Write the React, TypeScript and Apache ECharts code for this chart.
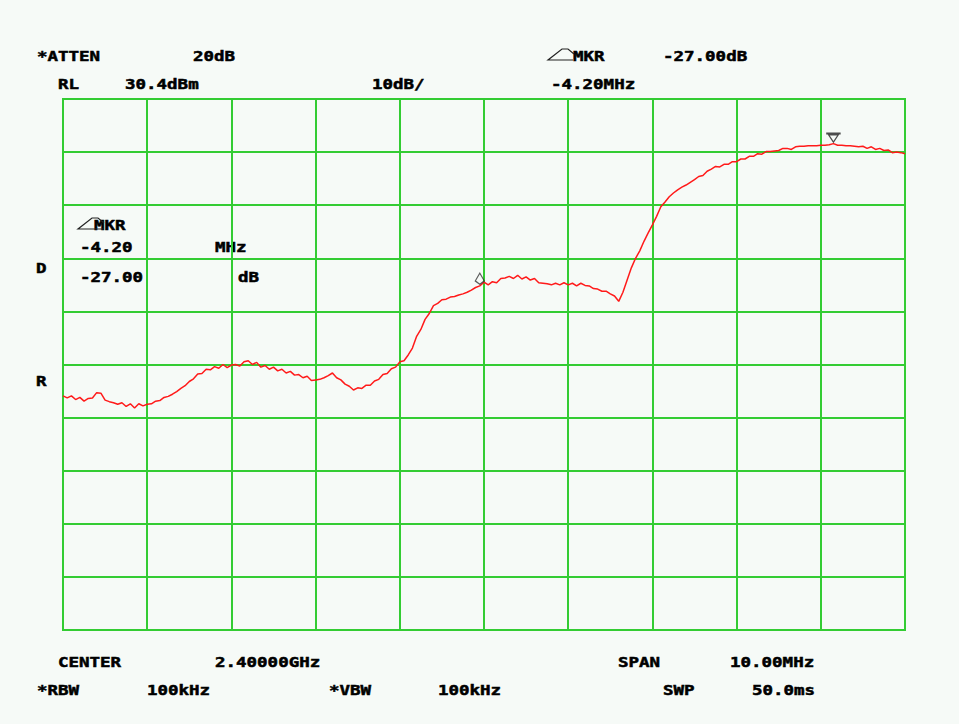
import React, { useEffect, useRef } from "react";
import * as echarts from "echarts";

// Spectrum analyzer trace, one reading every 0.05 MHz from 2395 MHz to 2405 MHz (dBm)
const START_MHZ = 2395;
const STEP_MHZ = 0.05;
const traceDbm: number[] = [
  -25.9, -26.3, -25.9, -26.6, -26.2, -26.9, -26.4, -26.3, -25.3, -25.4,
  -26.7, -27.0, -27.2, -27.5, -27.2, -27.9, -27.4, -28.2, -27.4, -27.8,
  -27.5, -27.4, -26.9, -26.8, -26.2, -26.0, -25.6, -25.1, -24.5, -24.0,
  -23.2, -22.7, -21.8, -21.7, -20.9, -21.0, -20.4, -20.7, -20.0, -20.6,
  -20.1, -20.0, -20.3, -19.5, -19.3, -20.0, -19.6, -20.5, -20.2, -20.9,
  -20.5, -21.2, -20.9, -21.6, -21.3, -22.0, -21.9, -22.5, -22.2, -23.0,
  -22.9, -22.8, -22.5, -22.1, -21.6, -22.5, -22.9, -23.7, -24.1, -24.8,
  -24.4, -24.5, -23.9, -23.9, -23.1, -22.8, -21.9, -21.7, -20.8, -20.5,
  -19.5, -19.3, -18.2, -16.9, -14.7, -13.4, -11.5, -10.4, -8.9, -8.5,
  -7.8, -7.7, -7.3, -7.2, -6.9, -6.7, -6.4, -6.0, -5.5, -5.2,
  -4.5, -5.0, -4.4, -4.6, -3.8, -3.7, -3.4, -3.8, -3.2, -3.9,
  -3.5, -4.1, -3.8, -4.6, -4.7, -4.8, -5.0, -4.7, -5.0, -4.6,
  -5.0, -4.7, -5.2, -4.7, -5.1, -5.2, -5.7, -5.8, -6.2, -6.2,
  -6.7, -7.1, -8.1, -6.4, -4.1, -1.8, 0.0, 1.4, 3.2, 4.8,
  6.3, 7.9, 9.7, 10.6, 11.6, 12.3, 12.9, 13.4, 13.8, 14.3,
  14.8, 15.4, 15.6, 16.4, 16.8, 17.3, 17.2, 17.7, 17.7, 18.2,
  18.2, 18.7, 18.7, 19.2, 19.2, 19.7, 19.6, 20.1, 20.1, 20.2,
  20.3, 20.7, 20.7, 20.5, 21.0, 21.1, 21.1, 21.2, 21.2, 21.2,
  21.3, 21.3, 21.4, 21.6, 21.3, 21.3, 21.2, 21.2, 21.1, 21.0,
  21.1, 20.7, 21.0, 20.5, 20.7, 20.3, 20.4, 19.9, 20.0, 19.9,
  19.7,
];

// Markers: [frequency MHz, level dBm]
const refMarker: [number, number] = [2399.95, -4.6];
const mainMarker: [number, number] = [2404.15, 21.6];

// Axis ranges
const X_MIN = 2395;
const X_MAX = 2405;
const X_STEP = 1;
const Y_MIN = -70;
const Y_MAX = 30;
const Y_STEP = 10;

// Annotation texts: [text, left x, center y]
const headerTexts: [string, number, number][] = [
  ["*ATTEN", 37, 56],
  ["20dB", 193, 56],
  ["MKR", 573, 56],
  ["-27.00dB", 663, 56],
  ["RL", 58, 84],
  ["30.4dBm", 125, 84],
  ["10dB/", 372, 84],
  ["-4.20MHz", 551, 84],
];
const panelTexts: [string, number, number][] = [
  ["MKR", 94, 225],
  ["-4.20", 80, 247],
  ["MHz", 215, 247],
  ["-27.00", 80, 277],
  ["dB", 238, 277],
  ["D", 36, 268],
  ["R", 36, 381],
];
const footerTexts: [string, number, number][] = [
  ["CENTER", 58, 662],
  ["2.40000GHz", 215, 662],
  ["SPAN", 618, 662],
  ["10.00MHz", 730, 662],
  ["*RBW", 37, 690],
  ["100kHz", 147, 690],
  ["*VBW", 329, 690],
  ["100kHz", 438, 690],
  ["SWP", 663, 690],
  ["50.0ms", 752, 690],
];

const GREEN = "#33cc33";
const BG = "#f6faf7";
const FONT = 'bold 14px "DejaVu Sans Mono"';

function txt(t: [string, number, number]) {
  return {
    type: "text",
    x: t[1],
    y: t[2],
    scaleX: 1.25,
    originX: 0,
    originY: 0,
    silent: true,
    style: {
      text: t[0],
      x: 0,
      y: 0,
      font: FONT,
      fill: "#000",
      stroke: "#000",
      lineWidth: 0.5,
      verticalAlign: "middle",
      align: "left",
    },
  };
}

function deltaIcon(x: number, y: number) {
  return {
    type: "polyline",
    x,
    y,
    silent: true,
    shape: { points: [[25, 11], [0, 11], [14, 0], [20, 0], [26, 5]] },
    style: { stroke: "#222", lineWidth: 1.2, fill: "none" },
  };
}

export default function App() {
  const ref = useRef<HTMLDivElement>(null);
  useEffect(() => {
    if (!ref.current) return;
    const chart = echarts.init(ref.current, undefined, { renderer: "svg" });
    const data = traceDbm.map((v, i) => [START_MHZ + i * STEP_MHZ, v]);
    chart.setOption({
      animation: false,
      backgroundColor: BG,
      grid: {
        left: 63,
        top: 99,
        width: 842,
        height: 531,
        show: true,
        borderColor: GREEN,
        borderWidth: 2,
        backgroundColor: "transparent",
      },
      xAxis: {
        type: "value",
        min: X_MIN,
        max: X_MAX,
        interval: X_STEP,
        axisLine: { show: false },
        axisTick: { show: false },
        axisLabel: { show: false },
        splitLine: { show: true, lineStyle: { color: GREEN, width: 2 } },
      },
      yAxis: {
        type: "value",
        min: Y_MIN,
        max: Y_MAX,
        interval: Y_STEP,
        axisLine: { show: false },
        axisTick: { show: false },
        axisLabel: { show: false },
        splitLine: { show: true, lineStyle: { color: GREEN, width: 2 } },
      },
      series: [
        {
          type: "line",
          data,
          showSymbol: false,
          symbol: "none",
          lineStyle: { color: "#ff1a1a", width: 1.5 },
          z: 3,
        },
        {
          type: "scatter",
          data: [refMarker],
          symbol: "path://M5 0 L9 7 L5 10 L1 7 Z",
          symbolSize: [9, 11],
          symbolOffset: [0, -4],
          itemStyle: { color: "transparent", borderColor: "#333", borderWidth: 1.2 },
          z: 4,
        },
        {
          type: "scatter",
          data: [mainMarker],
          symbol: "path://M0 0 L14 0 L14 1 L0 1 Z M2 2 L12 2 L7 9 Z",
          symbolSize: [13, 9],
          symbolOffset: [0, -6],
          itemStyle: { color: "transparent", borderColor: "#222", borderWidth: 1.2 },
          z: 4,
        },
      ],
      graphic: [
        ...headerTexts.map(txt),
        ...panelTexts.map(txt),
        ...footerTexts.map(txt),
        deltaIcon(548, 49),
        deltaIcon(78, 218),
      ],
    });
    return () => chart.dispose();
  }, []);
  return (
    <div
      ref={ref}
      style={{ position: "absolute", left: 0, top: 0, width: 959, height: 724 }}
    />
  );
}
